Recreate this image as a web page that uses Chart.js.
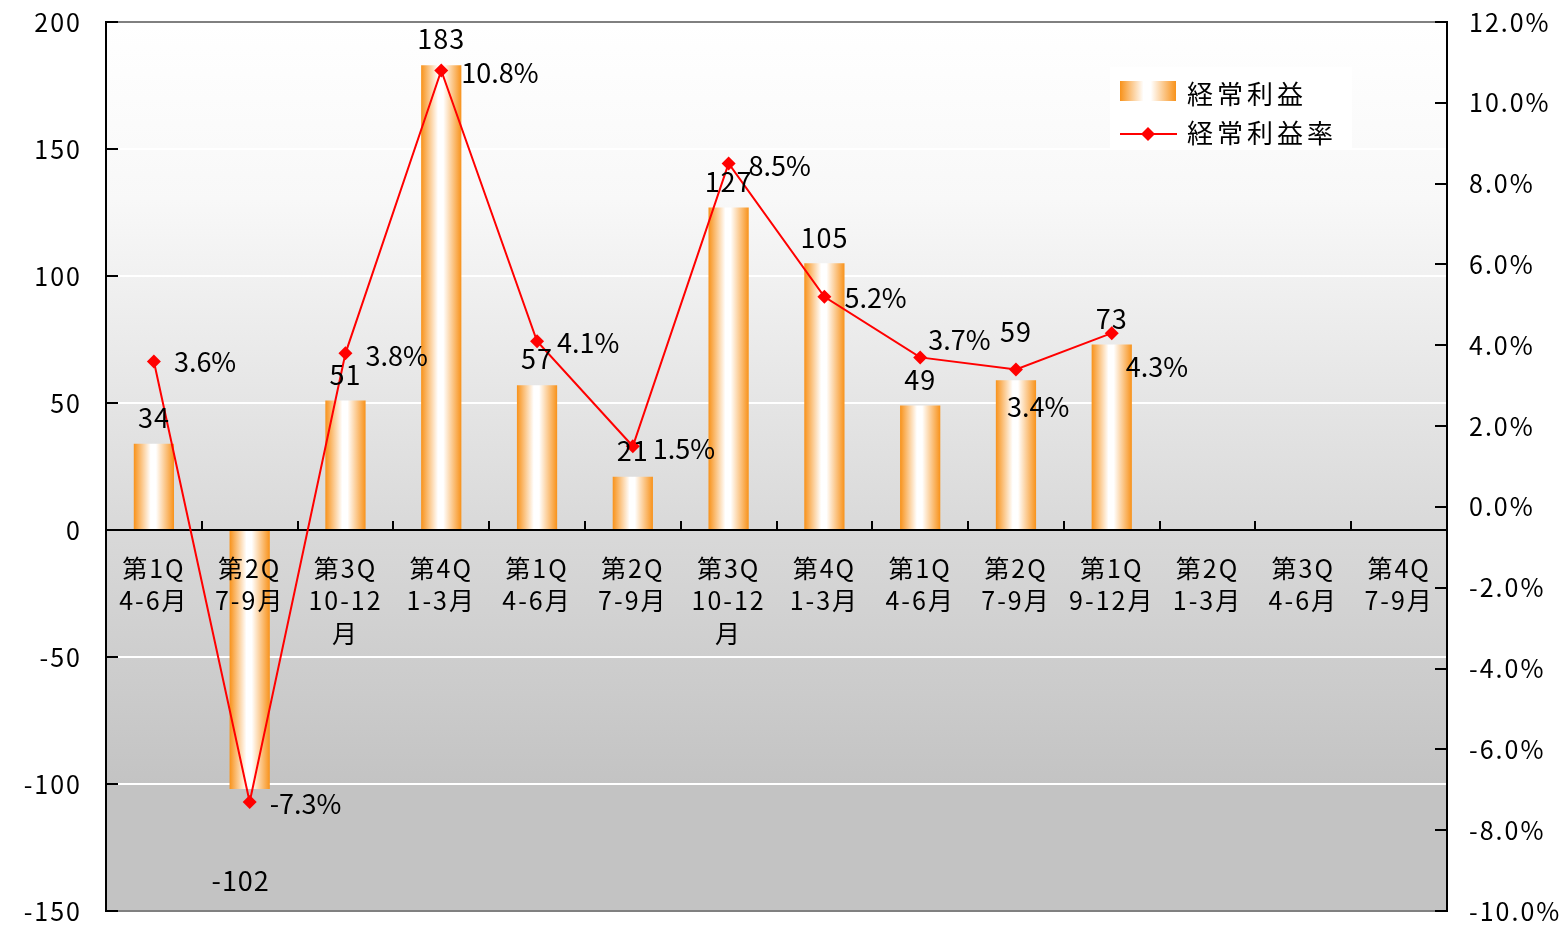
<!DOCTYPE html>
<html lang="ja">
<head>
<meta charset="utf-8">
<title>経常利益・経常利益率</title>
<script src="https://cdn.jsdelivr.net/npm/chart.js@4.4.1/dist/chart.umd.min.js"></script>
<style>
  html, body { margin: 0; padding: 0; background: #ffffff; }
  #wrap { width: 1560px; height: 925px; }
</style>
</head>
<body>
<div id="wrap"><canvas id="profitChart"></canvas></div>
<script>
// データ
const quarters = [
  ['第1Q', '4-6月'], ['第2Q', '7-9月'], ['第3Q', '10-12', '月'], ['第4Q', '1-3月'],
  ['第1Q', '4-6月'], ['第2Q', '7-9月'], ['第3Q', '10-12', '月'], ['第4Q', '1-3月'],
  ['第1Q', '4-6月'], ['第2Q', '7-9月'], ['第1Q', '9-12月'], ['第2Q', '1-3月'],
  ['第3Q', '4-6月'], ['第4Q', '7-9月']
];
const ordinaryProfit = [34, -102, 51, 183, 57, 21, 127, 105, 49, 59, 73, null, null, null]; // 経常利益
const profitMargin = [3.6, -7.3, 3.8, 10.8, 4.1, 1.5, 8.5, 5.2, 3.7, 3.4, 4.3, null, null, null]; // 経常利益率 (%)
const profitTicks = [-150, -100, -50, 0, 50, 100, 150, 200];
const marginTicks = [-10, -8, -6, -4, -2, 0, 2, 4, 6, 8, 10, 12];

// ラベルの微調整 (px) [dx, dy]
const barLabelNudge = { 1: [-9, 66], 9: [0, -22] };
const marginLabelNudge = { 0: [0, -2], 7: [0, -1], 8: [-12, -20], 9: [-29, 35], 10: [-6, 32] };

const FONT = '"Noto Sans CJK JP", "Noto Sans", sans-serif';
const ORANGE = '#f8921a';

function barGradient(ctx, x0, x1) {
  const g = ctx.createLinearGradient(x0, 0, x1, 0);
  g.addColorStop(0, ORANGE);
  g.addColorStop(0.42, '#ffffff');
  g.addColorStop(0.55, '#ffffff');
  g.addColorStop(1, ORANGE);
  return g;
}

// 軸のはみ出し分を無視してプロット領域を固定する
function noPadding(s) {
  s.paddingTop = 0; s.paddingBottom = 0; s.paddingLeft = 0; s.paddingRight = 0;
}

// 背景・目盛り・ラベル・凡例
const chartLook = {
  id: 'chartLook',
  beforeLayout(chart) { chart.ctx.letterSpacing = '2px'; },
  beforeDraw(chart) {
    const { ctx, chartArea: a } = chart;
    ctx.letterSpacing = '2px';
    const g = ctx.createLinearGradient(0, a.top, 0, a.bottom);
    g.addColorStop(0, '#ffffff');
    g.addColorStop(0.2, '#f8f8f8');
    g.addColorStop(0.57, '#d9d9d9');
    g.addColorStop(0.86, '#c3c3c3');
    g.addColorStop(1, '#c3c3c3');
    ctx.save();
    ctx.fillStyle = g;
    ctx.fillRect(a.left, a.top, a.right - a.left, a.bottom - a.top);
    ctx.restore();
  },
  beforeDatasetDraw(chart, args) {
    if (args.index !== 1) return;
    // 0 の軸線と区切り目盛り
    const { ctx, chartArea: a, scales } = chart;
    const zy = Math.round(scales.y.getPixelForValue(0));
    const step = (a.right - a.left) / quarters.length;
    ctx.save();
    ctx.strokeStyle = '#000';
    ctx.lineWidth = 2;
    ctx.beginPath();
    ctx.moveTo(a.left, zy);
    ctx.lineTo(a.right, zy);
    for (let i = 1; i < quarters.length; i++) {
      const x = Math.round(a.left + step * i);
      ctx.moveTo(x, zy);
      ctx.lineTo(x, zy - 9);
    }
    ctx.stroke();
    ctx.restore();
  },
  afterDatasetsDraw(chart) {
    const { ctx } = chart;
    ctx.save();
    ctx.fillStyle = '#000';
    ctx.font = '27px ' + FONT;
    ctx.letterSpacing = '1px';
    ctx.textBaseline = 'middle';

    ctx.textAlign = 'center';
    chart.getDatasetMeta(0).data.forEach((bar, i) => {
      const v = ordinaryProfit[i];
      if (v === null) return;
      const [dx, dy] = barLabelNudge[i] || [0, 0];
      const y = v >= 0 ? bar.y - 26 : bar.y + 26;
      ctx.fillText(String(v), bar.x + dx, y + dy);
    });

    ctx.textAlign = 'left';
    ctx.letterSpacing = '0px';
    chart.getDatasetMeta(1).data.forEach((pt, i) => {
      const v = profitMargin[i];
      if (v === null) return;
      const [dx, dy] = marginLabelNudge[i] || [0, 0];
      ctx.fillText(v.toFixed(1) + '%', pt.x + 20 + dx, pt.y + 2 + dy);
    });
    ctx.restore();
  },
  afterDraw(chart) {
    const { ctx, chartArea: a, scales } = chart;
    ctx.save();
    // 上下の枠線
    ctx.strokeStyle = '#808080';
    ctx.lineWidth = 2;
    ctx.beginPath();
    ctx.moveTo(a.left, a.top); ctx.lineTo(a.right, a.top);
    ctx.moveTo(a.left, a.bottom); ctx.lineTo(a.right, a.bottom);
    ctx.stroke();
    // 内向きの目盛り
    ctx.strokeStyle = '#000';
    ctx.beginPath();
    profitTicks.forEach(v => {
      const y = Math.round(scales.y.getPixelForValue(v));
      ctx.moveTo(a.left, y); ctx.lineTo(a.left + 12, y);
    });
    marginTicks.forEach(v => {
      const y = Math.round(scales.y1.getPixelForValue(v));
      ctx.moveTo(a.right - 12, y); ctx.lineTo(a.right, y);
    });
    ctx.stroke();

    // 凡例
    const lx = a.right - 337, ly = a.top + 45;
    ctx.fillStyle = 'rgba(255,255,255,0.92)';
    ctx.fillRect(lx, ly, 242, 83);
    ctx.fillStyle = barGradient(ctx, lx + 10, lx + 66);
    ctx.fillRect(lx + 10, ly + 14, 56, 20);
    ctx.strokeStyle = '#ff0000';
    ctx.lineWidth = 2;
    ctx.beginPath();
    ctx.moveTo(lx + 10, ly + 67); ctx.lineTo(lx + 67, ly + 67);
    ctx.stroke();
    ctx.fillStyle = '#ff0000';
    ctx.beginPath();
    ctx.moveTo(lx + 38, ly + 60); ctx.lineTo(lx + 45, ly + 67);
    ctx.lineTo(lx + 38, ly + 74); ctx.lineTo(lx + 31, ly + 67);
    ctx.closePath();
    ctx.fill();
    ctx.fillStyle = '#000';
    ctx.font = '26px ' + FONT;
    ctx.letterSpacing = '4px';
    ctx.textAlign = 'left';
    ctx.textBaseline = 'middle';
    ctx.fillText(chart.data.datasets[0].label, lx + 77, ly + 27);
    ctx.fillText(chart.data.datasets[1].label, lx + 77, ly + 66);
    ctx.restore();
  }
};

const ctx = document.getElementById('profitChart').getContext('2d');
new Chart(ctx, {
  data: {
    labels: quarters,
    datasets: [
      {
        type: 'bar',
        label: '経常利益',
        data: ordinaryProfit,
        yAxisID: 'y',
        order: 1,
        barPercentage: 0.42,
        categoryPercentage: 1,
        borderWidth: 0,
        backgroundColor(c) {
          const chart = c.chart;
          if (!chart.chartArea || c.dataIndex === undefined) return ORANGE;
          const xs = chart.scales.x;
          const cx = xs.getPixelForValue(c.dataIndex);
          const half = (xs.width / quarters.length) * 0.42 / 2;
          return barGradient(chart.ctx, cx - half, cx + half);
        }
      },
      {
        type: 'line',
        label: '経常利益率',
        data: profitMargin,
        yAxisID: 'y1',
        order: 0,
        borderColor: '#ff0000',
        backgroundColor: '#ff0000',
        borderWidth: 2,
        tension: 0,
        pointStyle: 'rectRot',
        pointRadius: 7,
        pointBorderWidth: 0,
        pointBackgroundColor: '#ff0000'
      }
    ]
  },
  options: {
    responsive: true,
    maintainAspectRatio: false,
    animation: false,
    events: [],
    layout: { padding: { top: 22, bottom: 14, left: 0, right: 0 } },
    plugins: {
      legend: { display: false },
      tooltip: { enabled: false }
    },
    scales: {
      x: {
        type: 'category',
        axis: 'x',
        position: { y: 0 },
        offset: true,
        afterFit: noPadding,
        grid: { display: false, drawTicks: false },
        border: { display: false },
        ticks: {
          z: 1, // 棒の上に項目名を描く
          autoSkip: false,
          maxRotation: 0,
          minRotation: 0,
          padding: 22,
          color: '#000',
          font: { family: FONT, size: 25, lineHeight: 1.3 }
        }
      },
      y: {
        position: 'left',
        min: profitTicks[0],
        max: profitTicks[profitTicks.length - 1],
        afterBuildTicks(s) { s.ticks = profitTicks.map(v => ({ value: v })); },
        afterFit(s) { s.width = 106; noPadding(s); },
        grid: {
          drawTicks: false,
          lineWidth: 2,
          color(c) {
            const v = c.tick && c.tick.value;
            if (v === 0 || v === profitTicks[0] || v === profitTicks[profitTicks.length - 1]) return 'rgba(0,0,0,0)';
            return '#ffffff';
          }
        },
        border: { display: true, color: '#000', width: 2 },
        ticks: {
          padding: 24,
          color: '#000',
          font: { family: FONT, size: 25 }
        }
      },
      y1: {
        position: 'right',
        min: marginTicks[0],
        max: marginTicks[marginTicks.length - 1],
        afterBuildTicks(s) { s.ticks = marginTicks.map(v => ({ value: v })); },
        afterFit(s) { s.width = 113; noPadding(s); },
        grid: { drawOnChartArea: false, drawTicks: false },
        border: { display: true, color: '#000', width: 2 },
        ticks: {
          padding: 22,
          color: '#000',
          font: { family: FONT, size: 25 },
          callback: v => v.toFixed(1) + '%'
        }
      }
    }
  },
  plugins: [chartLook]
});
</script>
</body>
</html>
